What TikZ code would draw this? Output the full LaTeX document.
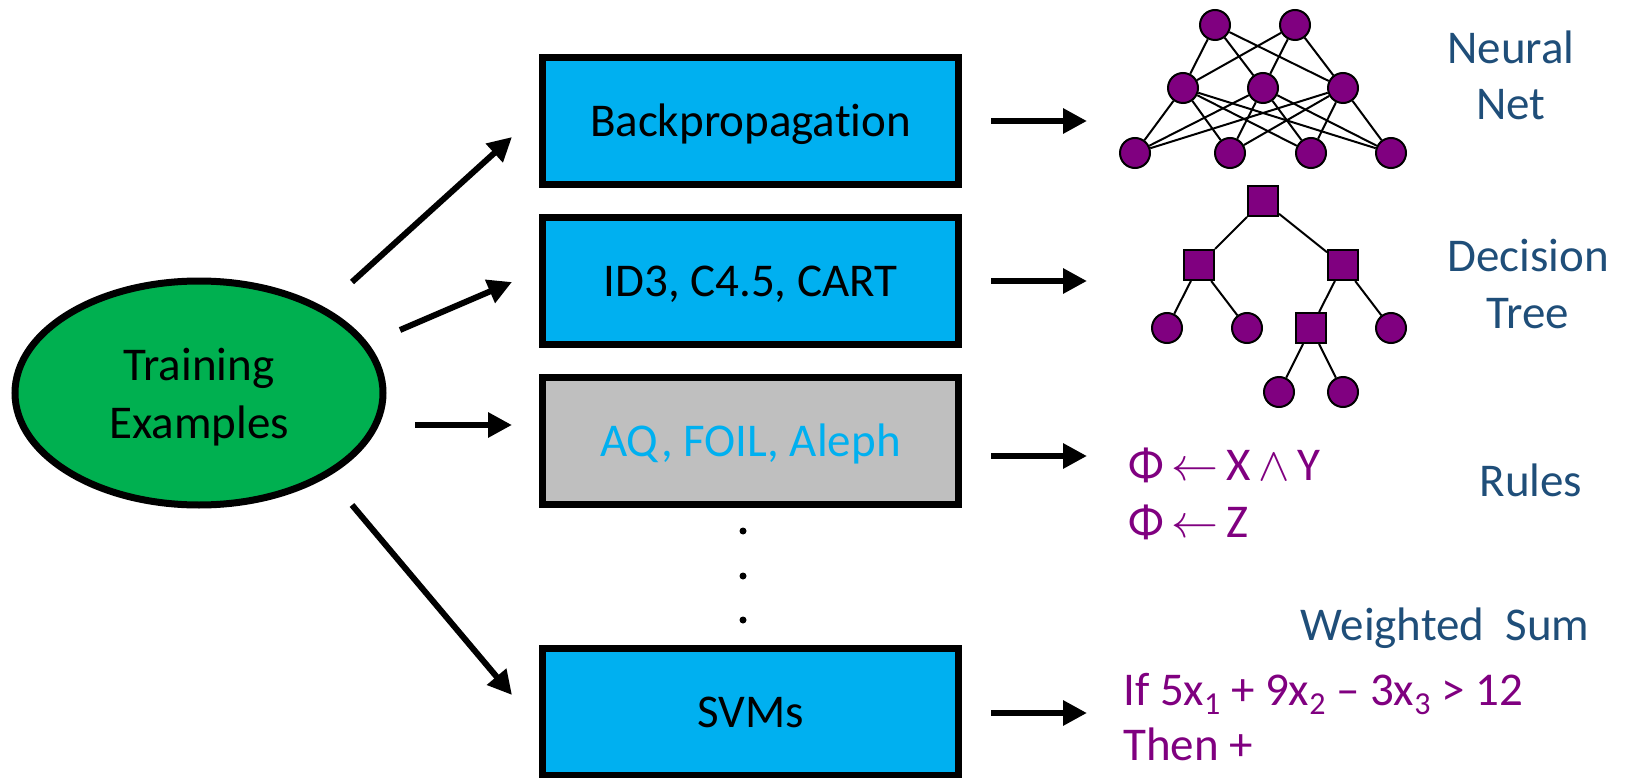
\RequirePackage{fix-cm}
\documentclass[tikz,border=0pt]{standalone}
\usepackage{fontspec}
\setmainfont[Ligatures={TeX,NoCommon}]{Carlito}
\usetikzlibrary{arrows.meta,shapes.geometric}
\definecolor{boxblue}{HTML}{00B0F0}
\definecolor{boxgrey}{HTML}{BFBFBF}
\definecolor{termgreen}{HTML}{00B050}
\definecolor{nodepurple}{HTML}{800080}
\definecolor{labelblue}{HTML}{1F4E79}
\newcommand\dgfont{\fontsize{47}{58}\selectfont}
\newcommand\lowsub[1]{\raisebox{-9pt}{\fontsize{32}{32}\selectfont #1}}
\begin{document}
\begin{tikzpicture}[x=1pt,y=-1pt,
  procbox/.style={rectangle, draw=black, line width=7pt, minimum width=416pt, minimum height=127pt, inner sep=0pt, text height=31pt, text depth=0pt, font=\dgfont},
  arr/.style={line width=6pt, -{Triangle[length=24pt,width=24pt]}},
  nn/.style={circle, draw=black, line width=2pt, fill=nodepurple, minimum size=30pt, inner sep=0pt},
  sqn/.style={rectangle, draw=black, line width=2pt, fill=nodepurple, minimum size=30pt, inner sep=0pt},
  link/.style={line width=2pt},
  dotn/.style={circle, fill=black, minimum size=7pt, inner sep=0pt},
  lbl/.style={text=labelblue, font=\dgfont, anchor=base, inner sep=0pt},
  rulet/.style={text=nodepurple, font=\dgfont, anchor=base west, inner sep=0pt}]
\useasboundingbox (0,0) rectangle (1625,778);

% training examples
\node[ellipse, draw=black, line width=7pt, fill=termgreen, minimum width=368pt, minimum height=224pt, inner sep=0pt] (te) at (199,393) {};
\node[font=\dgfont, align=center, inner sep=0pt] (tetext) at ([yshift=-4pt]te.center) {Training\\Examples};

% algorithm boxes
\node[procbox, fill=boxblue] (bp) at (750.5,121) {Backpropagation};
\node[procbox, fill=boxblue] (id) at (750.5,281) {ID3, C4.5, CART};
\node[procbox, fill=boxgrey, text=boxblue] (aq) at (750.5,441) {AQ, FOIL, Aleph};
\node[procbox, fill=boxblue] (svm) at (750.5,712) {SVMs};

% dots
\node[dotn] (d1) at (743,531) {};
\node[dotn] (d2) at (743,576) {};
\node[dotn] (d3) at (743,620) {};

% arrows from training examples
\coordinate (a1s) at (352,282); \coordinate (a1e) at (512,137);
\coordinate (a2s) at (400,330); \coordinate (a2e) at (512,282);
\coordinate (a3s) at (415,425); \coordinate (a3e) at (512,425);
\coordinate (a4s) at (352,505); \coordinate (a4e) at (512,695);
\draw[arr] (a1s) -- (a1e);
\draw[arr] (a2s) -- (a2e);
\draw[arr] (a3s) -- (a3e);
\draw[arr] (a4s) -- (a4e);

% arrows to outputs
\coordinate (r1s) at (991,121); \coordinate (r1e) at (1087,121);
\coordinate (r2s) at (991,281); \coordinate (r2e) at (1087,281);
\coordinate (r3s) at (991,456); \coordinate (r3e) at (1087,456);
\coordinate (r4s) at (991,713); \coordinate (r4e) at (1087,713);
\draw[arr] (r1s) -- (r1e);
\draw[arr] (r2s) -- (r2e);
\draw[arr] (r3s) -- (r3e);
\draw[arr] (r4s) -- (r4e);

% neural net
\node[nn] (t1) at (1215,25) {};
\node[nn] (t2) at (1295,25) {};
\node[nn] (m1) at (1183,88) {};
\node[nn] (m2) at (1263,88) {};
\node[nn] (m3) at (1343,88) {};
\node[nn] (b1) at (1135,153) {};
\node[nn] (b2) at (1230,153) {};
\node[nn] (b3) at (1311,153) {};
\node[nn] (b4) at (1391,153) {};
\foreach \t in {t1,t2} \foreach \m in {m1,m2,m3} \draw[link] (\t) -- (\m);
\foreach \m in {m1,m2,m3} \foreach \b in {b1,b2,b3,b4} \draw[link] (\m) -- (\b);

% decision tree
\node[sqn] (root) at (1263,201) {};
\node[sqn] (lq) at (1199,265) {};
\node[sqn] (rq) at (1343,265) {};
\node[nn] (c1) at (1167,328) {};
\node[nn] (c2) at (1247,328) {};
\node[sqn] (sq2) at (1311,328) {};
\node[nn] (c4) at (1391,328) {};
\node[nn] (e1) at (1279,392) {};
\node[nn] (e2) at (1343,392) {};
\draw[link] (root) -- (lq);
\draw[link] (root) -- (rq);
\draw[link] (lq) -- (c1);
\draw[link] (lq) -- (c2);
\draw[link] (rq) -- (sq2);
\draw[link] (rq) -- (c4);
\draw[link] (sq2) -- (e1);
\draw[link] (sq2) -- (e2);

% labels
\node[lbl] (nl1) at (1511,64) {Neural};
\node[lbl] (nl2) at (1511,120) {Net};
\node[lbl] (dl1) at (1528,271) {Decision};
\node[lbl] (dl2) at (1528,328) {Tree};
\node[lbl] (rl) at (1531,496) {Rules};
\node[lbl] (wl) at (1445,640) {Weighted\ \ Sum};

% formulas
\node[rulet] (f1) at (1128,480) {Φ\,$\leftarrow$\,X\,$\wedge$\,Y};
\node[rulet] (f2) at (1128,537) {Φ\,$\leftarrow$\,Z};
\node[rulet] (f3) at (1123,705) {If 5x\lowsub{1} + 9x\lowsub{2} – 3x\lowsub{3} > 12};
\node[rulet] (f4) at (1123,760) {Then +};
\end{tikzpicture}
\end{document}
